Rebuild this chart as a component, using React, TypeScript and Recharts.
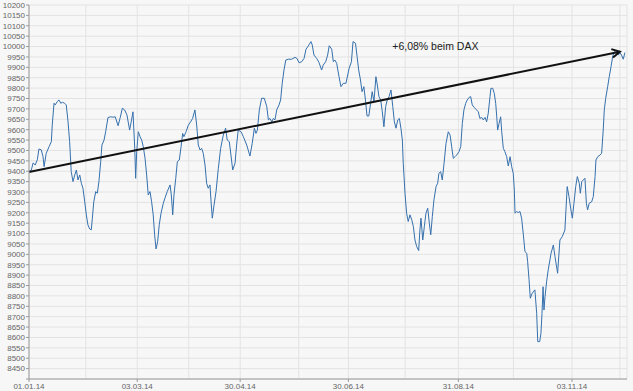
import { LineChart, Line, XAxis, YAxis, CartesianGrid, ReferenceLine, ReferenceDot } from 'recharts';

// DAX 2014, x = days since 01.01.14
const days = [
  0, 1.3, 2.3, 3.5, 4.7, 5.6, 6.9, 7.9, 8.5, 9.7, 11.3, 12.6, 13.1, 14.1, 14.8, 15.9, 16.9, 17.9, 18.8, 20.1,
  21.0, 22.0, 22.9, 23.8, 24.8, 25.8, 26.7, 27.6, 28.6, 29.5, 30.4, 31.4, 32.3, 33.2, 34.2, 35.1, 35.7, 36.5, 37.6, 38.5,
  39.4, 40.4, 41.1, 42.3, 43.2, 44.5, 46.0, 47.3, 48.6, 50.2, 51.4, 52.6, 53.9, 55.2, 56.7, 57.6, 58.6, 59.6, 60.1, 60.7,
  61.6, 62.6, 63.5, 64.4, 65.4, 66.3, 67.2, 68.2, 69.1, 70.0, 70.8, 71.6, 72.5, 73.4, 74.4, 75.7, 76.6, 77.9, 79.5, 80.2,
  81.0, 81.7, 82.7, 83.6, 84.7, 85.7, 86.6, 87.3, 88.5, 89.8, 91.1, 92.2, 93.5, 94.5, 95.4, 96.4, 97.3, 98.2, 99.2, 100.1,
  101.0, 102.0, 102.6, 103.3, 104.3, 105.4, 106.7, 108.0, 109.5, 110.8, 111.7, 112.9, 113.8, 114.8, 116.1, 117.0, 117.9, 119.5, 120.8, 122.7,
  124.5, 125.8, 127.0, 127.9, 128.7, 129.8, 131.1, 132.6, 134.0, 134.9, 135.8, 136.8, 137.7, 138.6, 139.6, 140.9, 141.8, 142.7, 143.7, 144.7,
  146.1, 148.0, 149.9, 151.0, 152.2, 153.7, 155.0, 156.1, 157.4, 158.9, 159.6, 160.6, 162.1, 163.4, 164.9, 165.8, 167.2, 168.3, 169.2, 170.6,
  171.5, 172.4, 173.4, 174.7, 175.8, 177.1, 178.6, 180.4, 181.7, 182.6, 184.0, 184.9, 185.8, 186.8, 187.7, 188.7, 189.6, 190.5, 191.5, 192.5,
  193.4, 194.4, 195.5, 196.3, 197.2, 198.2, 199.1, 200.0, 201.0, 201.9, 202.9, 204.0, 205.0, 205.9, 206.8, 207.8, 208.7, 209.6, 210.4, 210.9,
  211.9, 212.8, 213.7, 214.7, 215.7, 216.6, 217.5, 218.5, 219.6, 220.3, 220.9, 221.9, 222.8, 223.7, 224.7, 225.6, 226.4, 227.3, 228.2, 229.4,
  230.3, 231.0, 232.0, 232.9, 233.9, 235.0, 236.3, 237.3, 238.2, 239.1, 240.1, 241.0, 242.3, 243.3, 244.2, 245.1, 246.1, 247.0, 248.1, 248.9,
  249.8, 250.8, 251.9, 253.2, 254.1, 255.1, 256.0, 257.0, 257.9, 258.8, 259.8, 260.3, 261.3, 262.2, 263.0, 263.6, 264.1, 264.9, 265.8, 266.4,
  267.3, 268.2, 269.2, 270.1, 271.1, 272.0, 272.9, 273.5, 273.9, 274.8, 275.7, 276.7, 277.6, 278.5, 279.5, 280.5, 281.0, 281.8, 282.5, 283.6,
  285.1, 286.1, 286.7, 287.8, 288.5, 289.1, 289.7, 290.2, 290.8, 291.7, 292.6, 294.2, 295.5, 296.4, 297.9, 299.2, 300.5, 302.0, 302.6, 303.3,
  304.3, 305.4, 306.2, 307.1, 308.1, 309.0, 310.1, 310.7, 311.5, 312.4, 313.3, 314.1, 314.8, 315.7, 317.1, 318.0, 319.0, 319.5, 320.5, 321.8,
  322.7, 323.6, 324.2, 325.0, 326.1, 327.0, 328.0, 328.9, 329.8, 330.8, 332.1, 333.0, 333.9, 334.9, 335.8,
];

const values = [
  9400, 9405, 9440, 9430, 9455, 9507, 9503, 9470, 9422, 9486, 9518, 9542, 9622, 9727, 9719, 9735, 9743, 9727, 9732, 9727,
  9719, 9638, 9542, 9398, 9350, 9382, 9406, 9358, 9382, 9342, 9318, 9253, 9190, 9142, 9122, 9118, 9174, 9253, 9302, 9294,
  9350, 9446, 9526, 9550, 9590, 9658, 9662, 9660, 9662, 9619, 9658, 9703, 9695, 9671, 9598, 9638, 9686, 9510, 9366, 9494,
  9590, 9566, 9550, 9518, 9462, 9382, 9286, 9302, 9253, 9190, 9094, 9026, 9061, 9142, 9198, 9246, 9270, 9302, 9334, 9286,
  9190, 9286, 9366, 9446, 9454, 9518, 9582, 9566, 9590, 9622, 9638, 9654, 9695, 9622, 9526, 9502, 9510, 9486, 9430, 9342,
  9318, 9334, 9253, 9174, 9238, 9302, 9414, 9510, 9574, 9607, 9550, 9542, 9478, 9406, 9438, 9526, 9598, 9590, 9566, 9526,
  9473, 9534, 9607, 9582, 9598, 9695, 9751, 9751, 9711, 9647, 9654, 9638, 9654, 9647, 9695, 9719, 9743, 9823, 9887, 9935,
  9939, 9939, 9948, 9943, 9922, 9927, 9943, 9987, 10003, 10024, 10008, 9959, 9943, 9924, 9887, 9911, 9927, 9959, 10004, 9987,
  9927, 9935, 9919, 9855, 9807, 9823, 9823, 9895, 9927, 10024, 10016, 9951, 9887, 9839, 9783, 9807, 9743, 9666, 9666, 9727,
  9783, 9735, 9855, 9815, 9759, 9743, 9686, 9614, 9711, 9743, 9759, 9791, 9711, 9638, 9607, 9647, 9654, 9607, 9550, 9438,
  9294, 9198, 9158, 9190, 9166, 9134, 9069, 9037, 9018, 9118, 9174, 9069, 9134, 9198, 9222, 9150, 9094, 9182, 9262, 9326,
  9342, 9390, 9398, 9358, 9438, 9534, 9590, 9574, 9518, 9462, 9470, 9478, 9494, 9518, 9630, 9695, 9727, 9743, 9756, 9759,
  9719, 9708, 9698, 9686, 9654, 9659, 9647, 9659, 9638, 9679, 9759, 9799, 9799, 9775, 9727, 9662, 9598, 9630, 9662, 9590,
  9510, 9494, 9470, 9425, 9470, 9422, 9390, 9310, 9198, 9206, 9201, 9206, 9174, 9102, 9013, 9005, 8965, 8877, 8789, 8813,
  8829, 8716, 8580, 8580, 8620, 8716, 8844, 8732, 8796, 8869, 8925, 9005, 9045, 8990, 8909, 9069, 9085, 9117, 9214, 9326,
  9278, 9214, 9174, 9246, 9326, 9374, 9342, 9294, 9350, 9358, 9366, 9246, 9214, 9246, 9253, 9278, 9374, 9454, 9470, 9478,
  9486, 9598, 9695, 9751, 9807, 9855, 9903, 9951, 9975, 9971, 9959, 9971, 9959, 9939, 9971,
];

const yTicks = [
  8400, 8450, 8500, 8550, 8600, 8650, 8700, 8750, 8800, 8850, 8900, 8950, 9000, 9050, 9100, 9150, 9200, 9250, 9300,
  9350, 9400, 9450, 9500, 9550, 9600, 9650, 9700, 9750, 9800, 9850, 9900, 9950, 10000, 10050, 10100, 10150, 10200,
];

// x ticks: every tick gets a grid line, only the labelled ones get text
const xTicks = [0, 32, 61, 90, 119, 152, 180, 212, 242, 273, 306, 333];
const xLabels: Record<number, string> = {
  0: '01.01.14',
  61: '03.03.14',
  119: '30.04.14',
  180: '30.06.14',
  242: '31.08.14',
  306: '03.11.14',
};

const trendStart = { day: 0, value: 9396 };
const trendEnd = { day: 333, value: 9975 };
const trendLabel = { day: 229, value: 10003, text: '+6,08% beim DAX' };

const data = days.map((d, i) => ({ day: d, value: values[i] }));

const FONT = 'Liberation Sans, Arial, sans-serif';

const Arrow = (p: any) => {
  const { x1, y1, x2, y2 } = p;
  const a = Math.atan2(y2 - y1, x2 - x1);
  const len = 9;
  const w = 0.5;
  const pts = `${x2 - len * Math.cos(a - w)},${y2 - len * Math.sin(a - w)} ${x2},${y2} ${x2 - len * Math.cos(a + w)},${y2 - len * Math.sin(a + w)}`;
  return (
    <g>
      <line x1={x1} y1={y1} x2={x2} y2={y2} stroke="#111" strokeWidth={2} />
      <polyline points={pts} fill="none" stroke="#111" strokeWidth={2} />
    </g>
  );
};

const XTick = (p: any) => {
  const label = xLabels[p.payload?.value];
  if (!label) return <g />;
  return (
    <g>
      <line x1={p.x} y1={p.y} x2={p.x} y2={p.y + 3} stroke="#9a9a9a" />
      <text x={p.x} y={p.y + 10} textAnchor="middle" fontSize={8} fill="#666" fontFamily={FONT}>
        {label}
      </text>
    </g>
  );
};

export default function App() {
  return (
    <div style={{ position: 'absolute', left: 0, top: 0, width: 633, height: 391, overflow: 'hidden', background: '#f7f7f7' }}>
      <LineChart width={633} height={391} data={data} margin={{ top: 5, right: 6, bottom: 0, left: 0 }}>
        <CartesianGrid stroke="#e3e3e3" />
        <XAxis
          type="number"
          dataKey="day"
          domain={[0, 337]}
          ticks={xTicks}
          height={12}
          tickSize={0}
          tickMargin={0}
          tickLine={false}
          tick={<XTick />}
          stroke="#9a9a9a"
          interval={0}
        />
        <YAxis
          type="number"
          domain={[8400, 10200]}
          ticks={yTicks}
          width={29}
          tickSize={3}
          tickMargin={1}
          interval={0}
          tick={{ fontSize: 8, fill: '#666', fontFamily: FONT }}
          stroke="#9a9a9a"
          tickFormatter={(v: number) => (v === 8400 ? '' : String(v))}
        />
        <Line type="linear" dataKey="value" stroke="#3570ad" strokeWidth={1} dot={false} isAnimationActive={false} />
        <ReferenceLine
          segment={[
            { x: trendStart.day, y: trendStart.value },
            { x: trendEnd.day, y: trendEnd.value },
          ]}
          shape={Arrow}
        />
        <ReferenceDot
          x={trendLabel.day}
          y={trendLabel.value}
          r={0}
          fill="none"
          stroke="none"
          label={{ value: trendLabel.text, position: 'center', fontSize: 10.5, fill: '#222', fontFamily: FONT }}
        />
      </LineChart>
    </div>
  );
}
